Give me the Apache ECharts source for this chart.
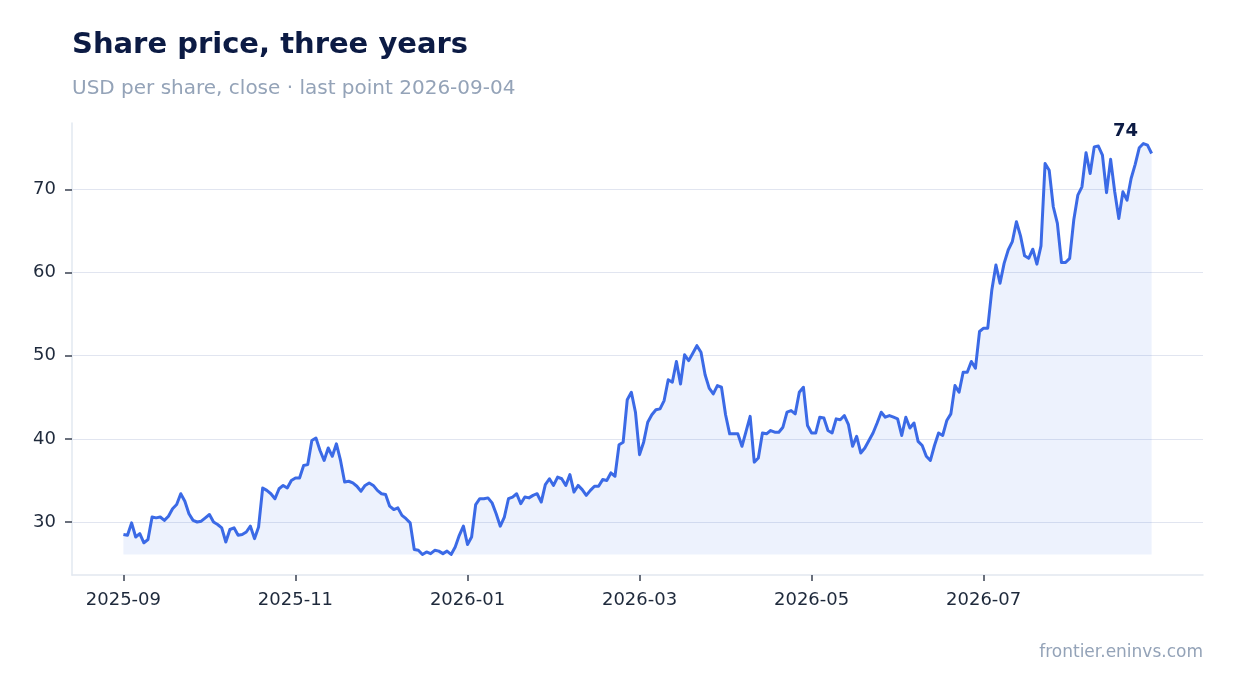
<!DOCTYPE html>
<html>
<head>
<meta charset="utf-8">
<script src="https://cdn.jsdelivr.net/npm/echarts@6/dist/echarts.min.js"></script>
<style>
  html, body { margin: 0; padding: 0; background: #fff; }
  #chart { width: 1234px; height: 693px; }
</style>
</head>
<body>
<div id="chart"></div>
<script>
// closes, one per trading day, oldest first
const values = [
  28.5, 28.4, 29.9, 28.2, 28.6, 27.5, 27.9, 30.6, 30.5, 30.6,
  30.2, 30.7, 31.6, 32.1, 33.4, 32.5, 31.0, 30.2, 30.0, 30.1,
  30.5, 30.9, 30.0, 29.7, 29.3, 27.6, 29.1, 29.3, 28.4, 28.5,
  28.8, 29.5, 28.0, 29.4, 34.1, 33.8, 33.4, 32.8, 34.0, 34.4,
  34.1, 35.0, 35.3, 35.3, 36.8, 36.9, 39.8, 40.1, 38.6, 37.4,
  38.9, 37.9, 39.4, 37.4, 34.8, 34.9, 34.7, 34.3, 33.7, 34.4,
  34.7, 34.4, 33.8, 33.4, 33.3, 31.9, 31.5, 31.7, 30.8, 30.4,
  29.9, 26.7, 26.6, 26.1, 26.4, 26.2, 26.6, 26.5, 26.2, 26.5,
  26.1, 27.0, 28.4, 29.5, 27.3, 28.2, 32.1, 32.8, 32.8, 32.9,
  32.3, 31.0, 29.5, 30.6, 32.8, 33.0, 33.4, 32.2, 33.0, 32.9,
  33.2, 33.4, 32.4, 34.5, 35.2, 34.4, 35.4, 35.2, 34.4, 35.7,
  33.6, 34.4, 33.9, 33.2, 33.8, 34.3, 34.3, 35.1, 35.0, 35.9,
  35.5, 39.3, 39.6, 44.7, 45.6, 43.2, 38.1, 39.6, 42.0, 42.9,
  43.5, 43.6, 44.6, 47.1, 46.8, 49.3, 46.6, 50.1, 49.4, 50.3,
  51.2, 50.4, 47.7, 46.1, 45.4, 46.4, 46.2, 42.9, 40.6, 40.6,
  40.6, 39.1, 40.9, 42.7, 37.2, 37.7, 40.7, 40.6, 41.0, 40.8,
  40.8, 41.4, 43.2, 43.4, 43.0, 45.6, 46.2, 41.6, 40.7, 40.7,
  42.6, 42.5, 41.0, 40.7, 42.4, 42.3, 42.8, 41.7, 39.1, 40.3,
  38.3, 38.9, 39.8, 40.7, 41.9, 43.2, 42.6, 42.8, 42.6, 42.4,
  40.4, 42.6, 41.3, 41.9, 39.7, 39.2, 37.9, 37.4, 39.2, 40.7,
  40.4, 42.2, 43.0, 46.4, 45.6, 48.0, 48.0, 49.3, 48.5, 52.9,
  53.3, 53.3, 57.9, 60.9, 58.7, 61.1, 62.7, 63.7, 66.1, 64.4,
  62.0, 61.7, 62.8, 61.0, 63.2, 73.1, 72.3, 67.9, 65.9, 61.2,
  61.2, 61.7, 66.3, 69.3, 70.3, 74.4, 71.9, 75.1, 75.2, 74.1,
  69.6, 73.6, 69.7, 66.5, 69.7, 68.7, 71.3, 73.0, 75.0, 75.5,
  75.3, 74.3
];

// x tick labels and the point index each one sits on
const tickLabels = ['2025-09', '2025-11', '2026-01', '2026-03', '2026-05', '2026-07'];
const tickIndex = [0, 42, 84, 126, 168, 210];
const yTicks = [30, 40, 50, 60, 70];

const lastDate = '2026-09-04';

const NAVY = '#0c1b44';
const GREY = '#94a3b8';
const INK = '#1e293b';
const BLUE = '#3b6ae6';
const FONT = 'DejaVu Sans';

const lastIdx = values.length - 1;
const lowest = Math.min(...values);

const myChart = echarts.init(document.getElementById('chart'), null, { renderer: 'canvas' });

const option = {
  backgroundColor: '#fff',
  animation: false,
  title: [
    {
      text: 'Share price, three years',
      left: 72, top: 31, padding: 0,
      textStyle: { fontFamily: FONT, fontSize: 29, fontWeight: 'bold', color: NAVY }
    },
    {
      text: 'USD per share, close \u00b7 last point ' + lastDate,
      left: 72, top: 79, padding: 0,
      textStyle: { fontFamily: FONT, fontSize: 20, fontWeight: 'normal', color: GREY }
    }
  ],
  graphic: [
    {
      type: 'text', right: 31, top: 644,
      style: { text: 'frontier.eninvs.com', font: '17px "DejaVu Sans"', fill: GREY }
    }
  ],
  grid: { left: 72, right: 31, top: 123, bottom: 118, containLabel: false },
  xAxis: {
    type: 'value',
    min: (e) => e.min - (e.max - e.min) * 0.05,
    max: (e) => e.max + (e.max - e.min) * 0.05,
    axisLine: { show: true, onZero: false, lineStyle: { color: '#e2e8f0', width: 1.5 } },
    axisTick: { show: true, customValues: tickIndex, length: 6, lineStyle: { color: '#3a4252', width: 1.5 } },
    axisLabel: {
      customValues: tickIndex,
      margin: 16,
      fontFamily: FONT, fontSize: 18, color: INK,
      formatter: (v) => tickLabels[tickIndex.indexOf(Math.round(v))] || ''
    },
    splitLine: { show: false }
  },
  yAxis: {
    type: 'value',
    min: (e) => e.min - (e.max - e.min) * 0.05,
    max: (e) => e.max + (e.max - e.min) * 0.05,
    axisLine: { show: true, onZero: false, lineStyle: { color: '#e2e8f0', width: 1.5 } },
    axisTick: { show: true, customValues: yTicks, length: 7, lineStyle: { color: '#3a4252', width: 1.5 } },
    axisLabel: {
      customValues: yTicks,
      margin: 16,
      fontFamily: FONT, fontSize: 18, color: INK
    },
    splitLine: { show: true, lineStyle: { color: '#e1e5f0', width: 1.2 } }
  },
  series: [
    {
      type: 'line',
      data: values.map((v, i) => [i, v]),
      symbol: 'none',
      lineStyle: { color: BLUE, width: 3, join: 'round' },
      areaStyle: { color: BLUE, opacity: 0.09, origin: lowest },
      markPoint: {
        symbol: 'circle',
        symbolSize: 0,
        data: [{ coord: [lastIdx, values[lastIdx]], value: Math.round(values[lastIdx]) }],
        label: {
          show: true,
          position: 'inside',
          offset: [-26, -22],
          fontFamily: FONT, fontSize: 18, fontWeight: 'bold', color: NAVY,
          formatter: (p) => String(p.value)
        }
      }
    }
  ]
};

myChart.setOption(option);
</script>
</body>
</html>
